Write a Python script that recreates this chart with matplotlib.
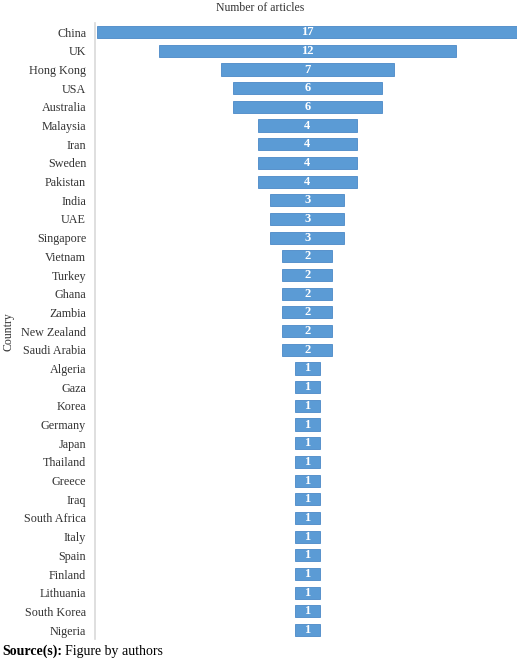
import numpy as np
import matplotlib
matplotlib.use("Agg")
import matplotlib.pyplot as plt

plt.rcParams['font.family'] = ['Liberation Serif', 'DejaVu Serif']

countries = ["China", "UK", "Hong Kong", "USA", "Australia", "Malaysia", "Iran",
             "Sweden", "Pakistan", "India", "UAE", "Singapore", "Vietnam", "Turkey",
             "Ghana", "Zambia", "New Zealand", "Saudi Arabia", "Algeria", "Gaza",
             "Korea", "Germany", "Japan", "Thailand", "Greece", "Iraq", "South Africa",
             "Italy", "Spain", "Finland", "Lithuania", "South Korea", "Nigeria"]
articles = [17, 12, 7, 6, 6, 4, 4, 4, 4, 3, 3, 3, 2, 2, 2, 2, 2, 2,
            1, 1, 1, 1, 1, 1, 1, 1, 1, 1, 1, 1, 1, 1, 1]

vals = np.array(articles, dtype=float)
y = np.arange(len(countries))

fig = plt.figure(figsize=(5.2, 6.63), dpi=100)
ax = fig.add_axes([0.183, 0.0356, 0.812, 0.930])

# funnel: bars centred on zero
ax.barh(y, vals, left=-vals / 2, height=0.65, color="#5B9BD5",
        edgecolor="#4A88C7", linewidth=0.6)
for yi, v in zip(y, articles):
    ax.text(0, yi, str(v), ha="center", va="center", color="white",
            fontsize=9, fontweight="bold")

ax.set_xlim(-8.56, 8.48)
ax.set_ylim(len(countries) - 0.5, -0.5)
ax.set_yticks(y)
ax.set_yticklabels(countries, fontsize=8.7, color="#333333")
ax.tick_params(axis="y", length=0, pad=6.5)
ax.set_xticks([])
for s in ["top", "right", "bottom"]:
    ax.spines[s].set_visible(False)
ax.spines["left"].set_color("#d9d9d9")
ax.spines["left"].set_linewidth(1.2)

fig.text(0.5, 0.988, "Number of articles", ha="center", va="center",
         fontsize=8.5, color="#333333")
fig.text(0.017, 0.5, "Country", rotation=90, ha="center", va="center",
         fontsize=8.5, color="#333333")
t1 = fig.text(0.004, 0.017, "Source(s):", ha="left", va="center",
              fontsize=10, fontweight="bold")
fig.canvas.draw()
bb = t1.get_window_extent()
x2 = bb.x1 / fig.bbox.width
fig.text(x2 + 0.005, 0.017, "Figure by authors", ha="left", va="center", fontsize=10)

fig.savefig("out.png", dpi=100)
